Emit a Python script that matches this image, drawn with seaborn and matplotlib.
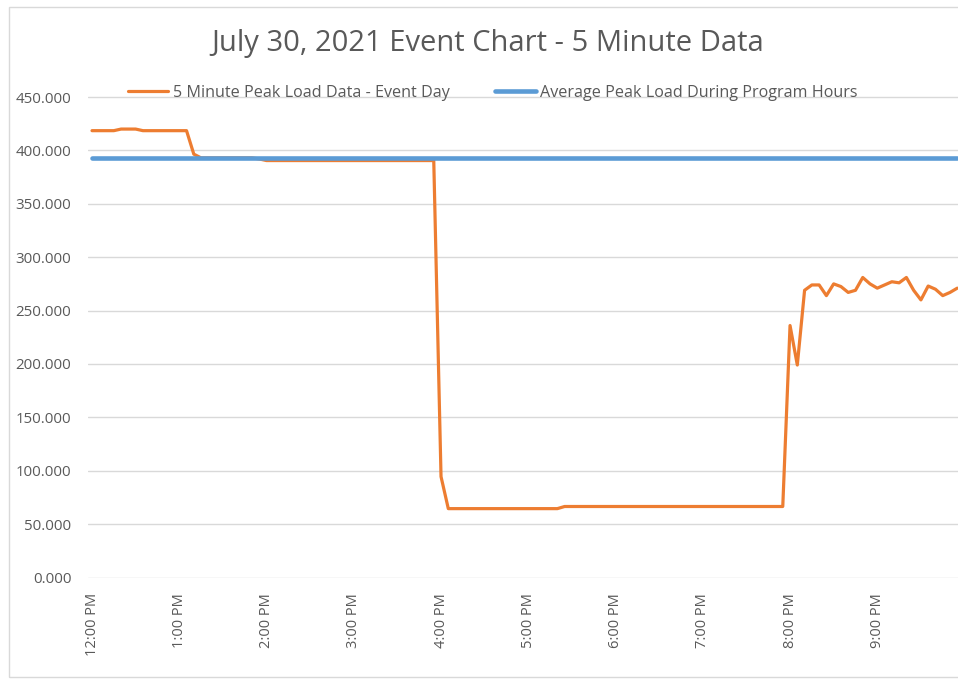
import matplotlib.pyplot as plt
import matplotlib.patches as mpatches
import pandas as pd
import seaborn as sns

sns.set_style("white")
plt.rcParams["font.family"] = ["Open Sans", "DejaVu Sans"]

# 5-minute readings, 12:00 PM to 9:55 PM, one row per hour
peak_load = [
    418.5, 418.5, 418.5, 418.5, 420.0, 420.0, 420.0, 418.5, 418.5, 418.5, 418.5, 418.5,
    418.5, 418.5, 396.5, 393.0, 393.0, 393.0, 393.0, 393.0, 393.0, 393.0, 393.0, 392.0,
    390.5, 390.5, 390.5, 390.5, 390.5, 390.5, 390.5, 390.5, 390.5, 390.5, 390.5, 390.5,
    390.5, 390.5, 390.5, 390.5, 390.5, 390.5, 390.5, 390.5, 390.5, 390.5, 390.5, 390.5,
    94.5, 64.5, 64.5, 64.5, 64.5, 64.5, 64.5, 64.5, 64.5, 64.5, 64.5, 64.5,
    64.5, 64.5, 64.5, 64.5, 64.5, 66.5, 66.5, 66.5, 66.5, 66.5, 66.5, 66.5,
    66.5, 66.5, 66.5, 66.5, 66.5, 66.5, 66.5, 66.5, 66.5, 66.5, 66.5, 66.5,
    66.5, 66.5, 66.5, 66.5, 66.5, 66.5, 66.5, 66.5, 66.5, 66.5, 66.5, 66.5,
    236.0, 199.0, 269.0, 274.0, 274.0, 264.0, 275.0, 272.5, 267.0, 269.0, 281.0, 275.0,
    271.0, 274.0, 277.0, 276.0, 281.0, 269.0, 260.0, 273.0, 270.0, 264.0, 267.0, 271.0,
]
avg_program_load = 392.6
hour_labels = ["12:00 PM", "1:00 PM", "2:00 PM", "3:00 PM", "4:00 PM",
               "5:00 PM", "6:00 PM", "7:00 PM", "8:00 PM", "9:00 PM"]

df = pd.DataFrame({"hour": [i * 5 / 60 for i in range(len(peak_load))],
                   "load": peak_load})
df["avg"] = avg_program_load

grey = "#595959"
fig = plt.figure(figsize=(9.58, 6.79), dpi=100)
# axes: left at 88px, 0 at y=577.5px, 452 at ~94.9px
ax = fig.add_axes([88 / 958, 1 - 577.5 / 679, 870 / 958, (577.5 - 94.9) / 679])

sns.lineplot(data=df, x="hour", y="load", ax=ax, color="#ED7D31", linewidth=2.3,
             label="5 Minute Peak Load Data - Event Day")
sns.lineplot(data=df, x="hour", y="avg", ax=ax, color="#5B9BD5", linewidth=3.3,
             label="Average Peak Load During Program Hours")

ax.set_xlim(-0.046, 9.925)
ax.set_ylim(0, 452)
ax.set_yticks(range(0, 451, 50))
ax.set_yticklabels(["{:.3f}".format(v) for v in range(0, 451, 50)])
ax.set_xticks(range(len(hour_labels)))
ax.set_xticklabels(hour_labels, rotation=90)
ax.tick_params(axis="y", length=0, pad=12, labelsize=10.8, labelcolor=grey)
ax.tick_params(axis="x", length=0, pad=11, labelsize=10.5, labelcolor=grey)
ax.grid(axis="y", color="#D9D9D9", linewidth=1)
ax.set_axisbelow(True)
for s in ax.spines.values():
    s.set_visible(False)
ax.set_xlabel("")
ax.set_ylabel("")

ax.legend(loc="center", bbox_to_anchor=(493 / 958, 1 - 93 / 679),
          bbox_transform=fig.transFigure, ncol=2, frameon=False, fontsize=11.6,
          handlelength=2.5, handletextpad=0.3, columnspacing=2.8,
          labelcolor=grey)

fig.text(488 / 958, 1 - 43 / 679, "July 30, 2021 Event Chart - 5 Minute Data",
         ha="center", va="center", fontsize=21, color=grey)

# chart frame
fig.patches.append(mpatches.Rectangle((9 / 958, 2 / 679), 1.2, 670 / 679,
                                      transform=fig.transFigure, fill=False,
                                      edgecolor="#D9D9D9", linewidth=1))

fig.savefig("out.png", dpi=100)
